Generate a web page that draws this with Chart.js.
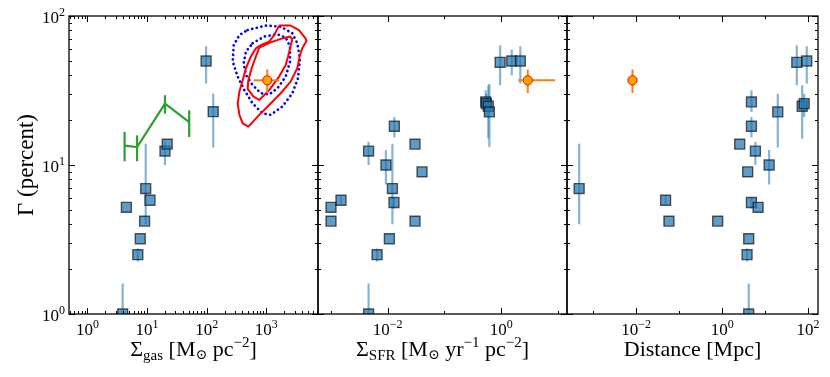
<!DOCTYPE html>
<html>
<head>
<meta charset="utf-8">
<script src="https://cdn.jsdelivr.net/npm/chart.js@4.4.0/dist/chart.umd.min.js"></script>
<style>
  html, body { margin: 0; padding: 0; background: #fff; }
  #wrap { position: relative; width: 830px; height: 377px; background: #fff; }
  #wrap canvas { position: absolute; left: 0; top: 0; }
</style>
</head>
<body>
<div id="wrap">
  <canvas id="gas" width="830" height="377"></canvas>
  <canvas id="sfr" width="830" height="377"></canvas>
  <canvas id="dist" width="830" height="377"></canvas>
</div>
<script>
// ---- data ----
// panel 1: gas surface density
const gasX = [3.9, 4.5, 7.0, 7.7, 9.1, 9.5, 11.2, 20, 21.8, 98, 129];
const gasY = [1.0, 5.2, 2.5, 3.2, 4.2, 6.95, 5.8, 12.4, 13.8, 49.9, 22.8];
const gasErr = [[0.5, 1.6], null, [2.25, 2.75], null, null, [4.0, 13.9], null, [10, 14.3], null, [35.2, 62.7], [13.1, 30.1]];

// panel 2: SFR surface density
const sfrX = [1e-3, 1e-3, 1.5e-3, 4.6e-3, 4.6e-3, 6.5e-3, 9.3e-3, 1.07e-2, 1.21e-2, 1.29e-2, 1.31e-2, 3.03e-2, 3.03e-2, 4.03e-2, 0.535, 0.55, 0.594, 0.62, 0.96, 1.54, 2.18];
const sfrY = [5.2, 4.2, 5.8, 12.4, 1.0, 2.5, 10, 3.2, 6.95, 5.6, 18.2, 13.8, 4.2, 9.0, 26.5, 25.8, 24.8, 22.7, 48.9, 49.9, 49.9];
const sfrErr = [null, null, [5.5, 6.2], [10, 14.3], [0.5, 1.6], [2.25, 2.75], [7.4, 12.6], null, [4.0, 13.9], [5.1, 6.1], [15.3, 21], null, null, null,
                [22.7, 31.7], [21, 30], [15, 34.3], [13.2, 35], [34.3, 63.5], [40, 59.4], [35.2, 62.7]];

// panel 3: distance
const distX = [4.7e-4, 0.0483, 0.0578, 0.787, 2.56, 3.93, 3.8, 4.15, 4.15, 4.8, 4.8, 4.8, 5.94, 6.86, 12.4, 19.7, 54.6, 93, 72.8, 81];
const distY = [6.95, 5.8, 4.2, 4.2, 13.8, 9.0, 2.5, 3.2, 1.0, 26.5, 18.2, 5.6, 12.4, 5.2, 10, 22.7, 48.9, 49.9, 24.8, 25.8];
const distErr = [[4.0, 13.9], [5.5, 6.2], null, null, null, null, [2.25, 2.75], null, [0.5, 1.6], [22.7, 31.7], [15.3, 21], [5.1, 6.1],
                 [10, 14.3], null, [7.4, 12.6], [13.1, 30.1], [34.3, 63.5], [35.2, 62.7], [15, 34.3], [21, 30]];

// the orange point (same object in every panel)
const starY = 37, starYErr = [30.4, 43.7];
const starGas = 1040, starGasErr = [615, 1660];
const starSfr = 2.95, starSfrErr = [2.0, 8.9];
const starDist = 8.2e-3;

// green binned relation
const greenX = [4.2, 6.8, 20, 51];
const greenY = [13.5, 13.2, 25.8, 19.4];
const greenErr = [[10.6, 16.7], [10.6, 15.8], [22.1, 29.4], [15.4, 23.3]];

// contours
const redOuterX = [1648, 2570, 3548, 4571, 4750, 4027, 3686, 3324, 2570, 1750, 1122, 765, 501, 403, 355, 332, 355, 403, 457, 554, 671, 813, 1122, 1360];
const redOuterY = [86.2, 86.2, 80.5, 70.8, 67.9, 60.7, 54.7, 44.6, 36.3, 30.3, 25.3, 21.7, 18.1, 19.05, 21.7, 25.9, 31.1, 37.1, 44.6, 53.5, 60.7, 63.8, 67.3, 74.5];
const redInnerX = [765, 1194, 1750, 2512, 2743, 2512, 2327, 2123, 1648, 1122, 765, 614, 488, 501, 569, 671];
const redInnerY = [61.4, 66.5, 70.2, 72.8, 70.2, 60.7, 53.5, 46.9, 39.2, 31.8, 27.3, 28.8, 32.4, 37.1, 44.6, 53.5];
const blueOuterX = [488, 985, 1750, 2743, 3324, 3686, 3415, 2743, 1870, 1194, 867, 591, 430, 332, 274, 285, 355];
const blueOuterY = [80.5, 86.2, 84.9, 76.6, 65.6, 52, 38.2, 30.3, 24.7, 21.7, 22.2, 25.9, 31.8, 39.2, 49.4, 63.8, 74.5];
const blueInnerX = [591, 926, 1542, 2123, 2512, 2512, 2123, 1542, 1122, 813, 591, 457, 419, 457];
const blueInnerY = [65.6, 72.8, 75.4, 71.6, 62.4, 49.4, 39.2, 32.7, 29.8, 30.3, 34.4, 40.2, 48.2, 57.7];

// ticks
const yTicks = [1, 10, 100];
const yTickExp = ['0', '1', '2'];
const gasTicks = [1, 10, 100, 1000];
const gasTickExp = ['0', '1', '2', '3'];
const sfrTicks = [0.01, 1];
const sfrTickExp = ['\u22122', '0'];
const distTicks = [0.01, 1, 100];
const distTickExp = ['\u22122', '0', '2'];

const SERIF = '"Liberation Serif", "DejaVu Serif", serif';

// ---- helpers ----
function pts(xs, ys) {
    return xs.map((x, i) => ({ x: x, y: ys[i] }));
}
function closed(xs, ys) {
    const p = pts(xs, ys);
    p.push({ x: xs[0], y: ys[0] });
    return p;
}

// draws text made of pieces [text, size, dy]
function richText(ctx, parts, x, y, align) {
    let w = 0;
    parts.forEach(p => { ctx.font = p[1] + 'px ' + SERIF; w += ctx.measureText(p[0]).width; });
    let cx = align === 'center' ? x - w / 2 : (align === 'right' ? x - w : x);
    ctx.textAlign = 'left';
    ctx.textBaseline = 'alphabetic';
    ctx.fillStyle = '#000';
    parts.forEach(p => {
        ctx.font = p[1] + 'px ' + SERIF;
        ctx.fillText(p[0], cx, y + p[2]);
        cx += ctx.measureText(p[0]).width;
    });
}

// minor log ticks between two values
function minorTicks(min, max) {
    const out = [];
    for (let e = Math.floor(Math.log10(min)); e <= Math.ceil(Math.log10(max)); e++) {
        for (let k = 2; k <= 9; k++) {
            const v = k * Math.pow(10, e);
            if (v >= min && v <= max) out.push(v);
        }
    }
    return out;
}
function decadeTicks(min, max, skip) {
    const out = [];
    for (let e = Math.ceil(Math.log10(min)); e <= Math.floor(Math.log10(max)); e++) {
        const v = Math.pow(10, e);
        if (skip.indexOf(v) < 0) out.push(v);
    }
    return out;
}

// frame, inward ticks, labels and error bars
function makeFrame(p) {
    return {
        id: 'frame',
        beforeDatasetDraw(chart, args) {
            const ds = chart.data.datasets[args.index];
            if (!ds.errY && !ds.errX) return;
            const ctx = chart.ctx, a = chart.chartArea;
            const sx = chart.scales.x, sy = chart.scales.y;
            ctx.save();
            ctx.beginPath();
            ctx.rect(a.left, a.top, a.right - a.left, a.bottom - a.top);
            ctx.clip();
            ctx.strokeStyle = ds.errColor;
            ctx.lineWidth = ds.errWidth || 2;
            ds.data.forEach((d, i) => {
                const px = sx.getPixelForValue(d.x), py = sy.getPixelForValue(d.y);
                if (ds.errY && ds.errY[i]) {
                    ctx.beginPath();
                    ctx.moveTo(px, sy.getPixelForValue(ds.errY[i][0]));
                    ctx.lineTo(px, sy.getPixelForValue(ds.errY[i][1]));
                    ctx.stroke();
                }
                if (ds.errX && ds.errX[i]) {
                    ctx.beginPath();
                    ctx.moveTo(sx.getPixelForValue(ds.errX[i][0]), py);
                    ctx.lineTo(sx.getPixelForValue(ds.errX[i][1]), py);
                    ctx.stroke();
                }
            });
            ctx.restore();
        },
        afterDraw(chart) {
            const ctx = chart.ctx, a = chart.chartArea;
            const sx = chart.scales.x, sy = chart.scales.y;
            ctx.save();
            ctx.strokeStyle = '#000';
            ctx.lineWidth = 1;
            const tx = (v, len) => {
                const x = Math.round(sx.getPixelForValue(v)) + 0.5;
                ctx.beginPath();
                ctx.moveTo(x, a.bottom); ctx.lineTo(x, a.bottom - len);
                ctx.moveTo(x, a.top); ctx.lineTo(x, a.top + len);
                ctx.stroke();
            };
            const ty = (v, len) => {
                const y = Math.round(sy.getPixelForValue(v)) + 0.5;
                ctx.beginPath();
                ctx.moveTo(a.left, y); ctx.lineTo(a.left + len, y);
                ctx.moveTo(a.right, y); ctx.lineTo(a.right - len, y);
                ctx.stroke();
            };
            p.xMajor.forEach(v => tx(v, 6));
            p.xMinor.forEach(v => tx(v, 3));
            yTicks.forEach(v => ty(v, 6));
            minorTicks(1, 100).forEach(v => ty(v, 3));

            ctx.lineWidth = 1.3;
            ctx.strokeRect(a.left, a.top, a.right - a.left, a.bottom - a.top);

            // tick labels
            p.xMajor.forEach((v, i) => {
                richText(ctx, [['10', 17, 0], [p.xExp[i], 12, -7.5]], sx.getPixelForValue(v), a.bottom + 21, 'center');
            });
            if (p.yLabels) {
                yTicks.forEach((v, i) => {
                    richText(ctx, [['10', 17, 0], [yTickExp[i], 12, -7.5]], a.left - 4, sy.getPixelForValue(v) + 7, 'right');
                });
                ctx.save();
                ctx.translate(33, (a.top + a.bottom) / 2);
                ctx.rotate(-Math.PI / 2);
                richText(ctx, [['\u0393 (percent)', 23, 0]], 0, 0, 'center');
                ctx.restore();
            }
            richText(ctx, p.title, (a.left + a.right) / 2, a.bottom + 42, 'center');
            ctx.restore();
        }
    };
}

const squareStyle = {
    pointStyle: 'rect',
    pointRadius: 7,
    pointHoverRadius: 7,
    backgroundColor: 'rgba(31,119,180,0.72)',
    borderColor: 'rgba(20,20,20,0.7)',
    borderWidth: 1.4,
    errColor: 'rgba(31,119,180,0.55)',
    errWidth: 2.2
};
const starStyle = {
    pointStyle: 'circle',
    pointRadius: 4.6,
    pointHoverRadius: 4.6,
    backgroundColor: '#ffa500',
    borderColor: '#ff0000',
    borderWidth: 1,
    errColor: '#ff7f0e',
    errWidth: 2
};
const contour = (data, color, dash) => ({
    data: data,
    showLine: true,
    pointRadius: 0,
    pointHoverRadius: 0,
    borderColor: color,
    borderWidth: dash ? 2.7 : 2,
    borderDash: dash || [],
    borderCapStyle: dash ? 'round' : 'butt',
    borderJoinStyle: 'round',
    tension: 0,
    fill: false
});

function makeChart(id, xmin, xmax, datasets, panel, pad) {
    return new Chart(document.getElementById(id), {
        type: 'scatter',
        data: { datasets: datasets },
        options: {
            responsive: false,
            animation: false,
            events: [],
            layout: { padding: pad },
            clip: 0,
            scales: {
                x: { type: 'logarithmic', min: xmin, max: xmax, bounds: 'data', display: false },
                y: { type: 'logarithmic', min: 1, max: 100, bounds: 'data', display: false }
            },
            plugins: { legend: { display: false }, tooltip: { enabled: false } }
        },
        plugins: [makeFrame(panel)]
    });
}

// panel 1
const gasMin = 0.49, gasMax = 7400;
makeChart('gas', gasMin, gasMax, [
    Object.assign({ data: [{ x: starGas, y: starY }], errY: [starYErr], errX: [starGasErr] }, starStyle),
    Object.assign({ data: pts(gasX, gasY), errY: gasErr }, squareStyle),
    { data: pts(greenX, greenY), showLine: true, pointRadius: 0, borderColor: '#2ca02c', borderWidth: 2.2,
      tension: 0, fill: false, errY: greenErr, errColor: '#2ca02c', errWidth: 2.2 },
    contour(closed(redInnerX, redInnerY), '#ff0000'),
    contour(closed(redOuterX, redOuterY), '#ff0000'),
    contour(closed(blueInnerX, blueInnerY), '#0000ff', [0.1, 4.6]),
    contour(closed(blueOuterX, blueOuterY), '#0000ff', [0.1, 4.6])
], {
    xMajor: gasTicks, xExp: gasTickExp, xMinor: minorTicks(gasMin, gasMax), yLabels: true,
    title: [['\u03A3', 22, 0], ['gas', 15, 4], [' [M', 22, 0], ['\u2299', 14, 3], [' pc', 22, 0], ['\u22122', 15, -9], [']', 22, 0]]
}, { left: 69, top: 16, right: 512, bottom: 63 });

// panel 2
const sfrMin = 5.9e-4, sfrMax = 14.5;
makeChart('sfr', sfrMin, sfrMax, [
    Object.assign({ data: [{ x: starSfr, y: starY }], errY: [starYErr], errX: [starSfrErr] }, starStyle),
    Object.assign({ data: pts(sfrX, sfrY), errY: sfrErr }, squareStyle)
], {
    xMajor: sfrTicks, xExp: sfrTickExp, xMinor: decadeTicks(sfrMin, sfrMax, sfrTicks), yLabels: false,
    title: [['\u03A3', 22, 0], ['SFR', 15, 4], [' [M', 22, 0], ['\u2299', 14, 3], [' yr', 22, 0], ['\u22121', 15, -9],
            [' pc', 22, 0], ['\u22122', 15, -9], [']', 22, 0]]
}, { left: 318, top: 16, right: 263, bottom: 63 });

// panel 3
const distMin = 2.45e-4, distMax = 170;
makeChart('dist', distMin, distMax, [
    Object.assign({ data: [{ x: starDist, y: starY }], errY: [starYErr] }, starStyle),
    Object.assign({ data: pts(distX, distY), errY: distErr }, squareStyle)
], {
    xMajor: distTicks, xExp: distTickExp, xMinor: decadeTicks(distMin, distMax, distTicks), yLabels: false,
    title: [['Distance [Mpc]', 22, 0]]
}, { left: 567, top: 16, right: 12, bottom: 63 });
</script>
</body>
</html>
